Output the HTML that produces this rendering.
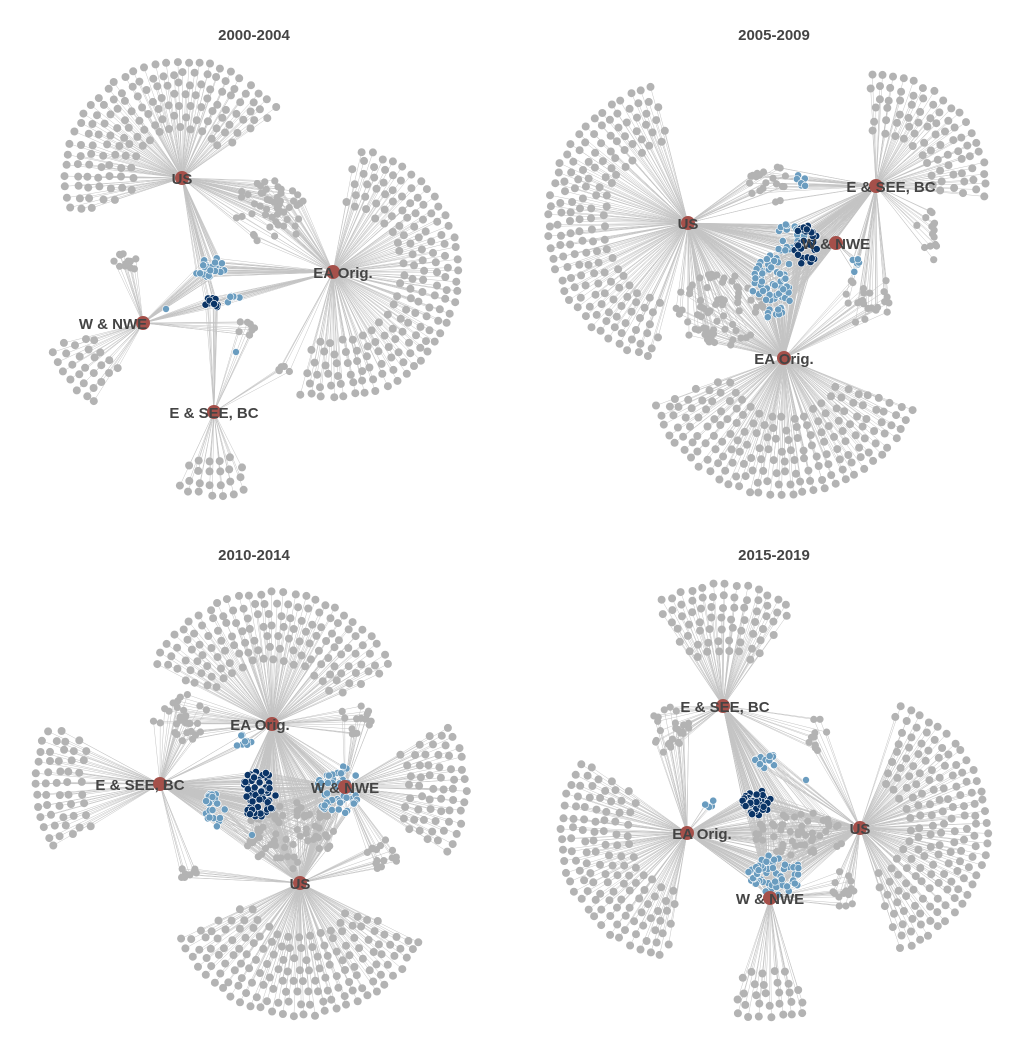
<!DOCTYPE html>
<html><head><meta charset="utf-8"><style>
html,body{margin:0;padding:0;background:#fff;}
svg text{font-family:"Liberation Sans",sans-serif;font-weight:bold;fill:#444;}
</style></head><body>
<svg id="s" width="1036" height="1037" xmlns="http://www.w3.org/2000/svg">
<g id="L"></g><g id="D"></g><g id="T">
<text x="254" y="40" font-size="15" text-anchor="middle">2000-2004</text>
<text x="774" y="40" font-size="15" text-anchor="middle">2005-2009</text>
<text x="254" y="560" font-size="15" text-anchor="middle">2010-2014</text>
<text x="774" y="560" font-size="15" text-anchor="middle">2015-2019</text>
</g></svg>
<script>
var L=document.getElementById('L'),D=document.getElementById('D'),T=document.getElementById('T');
var NS='http://www.w3.org/2000/svg';
var seed=7;function rnd(){seed=(seed*16807)%2147483647;return seed/2147483647;}
function line(x1,y1,x2,y2){var e=document.createElementNS(NS,'line');e.setAttribute('x1',x1);e.setAttribute('y1',y1);e.setAttribute('x2',x2.toFixed(1));e.setAttribute('y2',y2.toFixed(1));e.setAttribute('stroke','#c4c4c4');e.setAttribute('stroke-width','0.5');L.appendChild(e);}
function dot(x,y,c,r){var e=document.createElementNS(NS,'circle');e.setAttribute('cx',x.toFixed(1));e.setAttribute('cy',y.toFixed(1));e.setAttribute('r',r||4);e.setAttribute('fill',c);if(c!='#b3b3b3'&&c!='#a5504a'){e.setAttribute('stroke','#fff');e.setAttribute('stroke-width','0.6');}D.appendChild(e);}
function fan(h,a0,a1,r0,r1){var k=0;for(var r=r0;r<=r1;r+=11){k++;var st=11/r,A0=a0*Math.PI/180,A1=a1*Math.PI/180;for(var a=A0+(k%2)*st/2;a<=A1;a+=st){var rr=r+(rnd()-0.5)*4,aa=a+(rnd()-0.5)*st*0.3;var x=h[0]+rr*Math.cos(aa),y=h[1]-rr*Math.sin(aa);line(h[0],h[1],x,y);dot(x,y,'#b3b3b3');}}}
function blob(cx,cy,rx,ry,c,hubs,n){for(var i=0;i<n;i++){var t=rnd()*6.283,q=Math.sqrt(rnd());var x=cx+rx*q*Math.cos(t),y=cy+ry*q*Math.sin(t);if(hubs)hubs.forEach(function(h){line(h[0],h[1],x,y);});dot(x,y,c,3.6);}}
function hub(h,label,dx){dot(h[0],h[1],'#a5504a',7);var e=document.createElementNS(NS,'text');e.setAttribute('x',h[0]+(dx||0));e.setAttribute('y',h[1]+6);e.setAttribute('font-size','15');e.setAttribute('text-anchor','middle');e.textContent=label;T.appendChild(e);}
var LB='#6a9cbf',DB='#0a3466',G='#b3b3b3';
// Panel 1
var US=[182,178],EA=[333,272],WN=[143,323],ES=[214,412];
fan(US,35,200,50,118);blob(270,212,38,32,G,[US,EA],50);
fan(EA,-105,80,70,135);fan(WN,195,240,50,100);blob(125,262,14,10,G,[WN],12);blob(245,330,12,10,G,[WN,ES],8);
fan(ES,245,298,50,90);blob(285,370,8,6,G,[ES,EA],5);
blob(210,268,16,11,LB,[US,EA,WN],30);blob(212,303,8,6,DB,[US,EA,WN,ES],12);blob(234,300,7,5,LB,[EA,WN],7);dot(236,352,LB,3.5);dot(166,309,LB,3.5);
hub(US,'US',0);hub(EA,'EA Orig.',10);hub(WN,'W & NWE',-30);hub(ES,'E & SEE, BC',0);
// Panel 2
US=[688,223];ES=[876,186];WN=[836,243];EA=[784,358];
fan(US,105,255,85,140);fan(ES,-5,95,55,118);fan(EA,200,340,60,140);
blob(720,310,45,38,G,[US,EA],70);blob(870,300,25,30,G,[EA,ES],25);blob(930,235,15,30,G,[ES],15);blob(770,185,22,20,G,[US,ES],20);
blob(772,283,20,38,LB,[US,EA,ES,WN],70);blob(790,235,16,16,LB,[US,ES,WN],20);blob(802,180,7,7,LB,[ES],7);blob(856,268,7,11,LB,[ES,WN],9);blob(806,245,12,20,DB,[US,EA,ES,WN],40);
hub(US,'US',0);hub(ES,'E & SEE, BC',15);hub(WN,'W & NWE',0);hub(EA,'EA Orig.',0);
// Panel 3
EA=[272,724];ES=[160,784];WN=[345,787];US=[300,883];
fan(EA,25,155,65,135);fan(ES,152,212,80,125);fan(WN,-33,33,65,130);fan(US,205,335,55,135);
blob(180,718,30,25,G,[ES,EA],30);blob(355,720,18,15,G,[EA,WN],15);blob(385,855,18,15,G,[WN,US],15);blob(190,875,12,10,G,[ES,US],8);
blob(290,835,45,35,G,[ES,EA,WN,US],70);
blob(258,794,18,24,DB,[ES,EA,WN,US],60);blob(338,790,22,25,LB,[EA,WN,US],55);blob(215,807,10,20,LB,[ES,US],22);blob(244,742,9,8,LB,[EA,ES],8);dot(252,835,LB,3.5);
hub(EA,'EA Orig.',-12);hub(ES,'E & SEE, BC',-20);hub(WN,'W & NWE',0);hub(US,'US',0);
// Panel 4
ES=[723,706];EA=[687,833];US=[860,828];WN=[770,898];
fan(ES,55,125,55,125);fan(EA,145,262,60,135);fan(US,-72,72,50,135);fan(WN,252,288,75,120);
blob(670,730,20,25,G,[ES,EA],25);blob(818,735,10,18,G,[ES,US],10);blob(845,890,12,22,G,[US,WN],15);blob(800,835,45,25,G,[EA,US,ES,WN],50);
blob(757,803,16,13,DB,[ES,EA,US,WN],40);blob(775,875,27,20,LB,[EA,US,WN],60);blob(765,760,14,8,LB,[ES,US],14);blob(710,806,5,8,LB,[EA],5);dot(806,780,LB,3.5);
hub(ES,'E & SEE, BC',2);hub(EA,'EA Orig.',15);hub(US,'US',0);hub(WN,'W & NWE',0);
</script>
</body></html>
